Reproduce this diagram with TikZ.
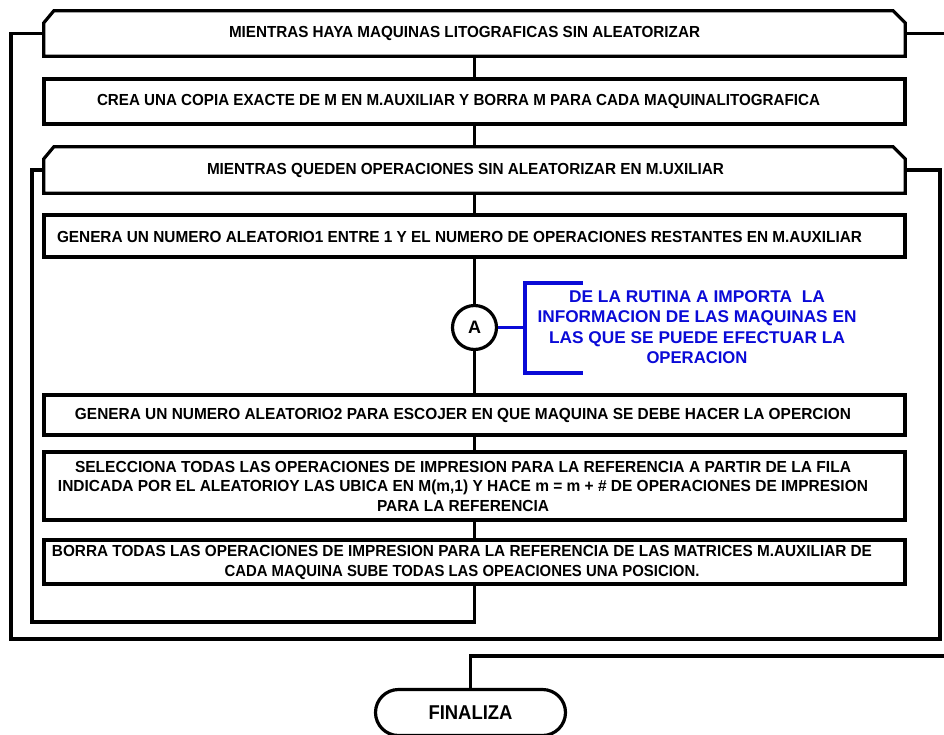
\documentclass[tikz,border=0pt]{standalone}
\usepackage{fontspec}
\setmainfont{Liberation Sans}
\usepackage{graphicx}
\usetikzlibrary{shapes.misc}

% set a line of text squeezed or stretched to a given width (in pt)
\newcommand\fitw[2]{\sbox0{#2}\pgfmathsetmacro\fitratio{#1/\the\wd0}\scalebox{\fitratio}[1]{\usebox0}}

\definecolor{notecolor}{RGB}{10,10,215}

\tikzset{
  stroke/.style={line width=3.2pt, line join=miter, line cap=rect},
  procbox/.style={draw, stroke, fill=white, minimum width=861pt, inner sep=0pt},
  loopnode/.style={minimum width=861pt, inner sep=0pt},
  lbl/.style={font=\bfseries\fontsize{16}{19.5}\selectfont, align=center, inner sep=0pt},
  notelbl/.style={font=\bfseries\fontsize{17}{20.5}\selectfont, align=center, inner sep=0pt, text=notecolor},
  conn/.style={stroke},
  noteline/.style={draw=notecolor, line width=3.4pt},
  connector/.style={circle, draw, stroke, fill=white, minimum size=44pt, inner sep=0pt, font=\bfseries\fontsize{18}{18}\selectfont},
  terminal/.style={rounded rectangle, draw, stroke, fill=white, minimum width=190pt, minimum height=46pt, inner sep=0pt, font=\bfseries\fontsize{20}{20}\selectfont}
}

% loop header with both upper corners cut off
\newcommand\loopframe[1]{%
  \draw[stroke, fill=white] (#1.south west) -- ([yshift=-12pt]#1.north west)
    -- ([xshift=10pt]#1.north west) -- ([xshift=-12pt]#1.north east)
    -- ([yshift=-12pt]#1.north east) -- (#1.south east) -- cycle;}

\begin{document}
\begin{tikzpicture}[x=1pt,y=-1pt]
\useasboundingbox (0,0) rectangle (944,734);

% outer loop header
\node[loopnode, minimum height=45pt] (loop1) at (474.5,33.5) {};
\loopframe{loop1}
\node[lbl] (loop1-t) at (464.5,33.5) {\fitw{471}{MIENTRAS HAYA MAQUINAS LITOGRAFICAS SIN ALEATORIZAR}};

% copy step
\node[procbox, minimum height=45pt] (crea) at (474.5,101.5) {};
\node[lbl] (crea-t) at (458.5,101.5) {\fitw{723}{CREA UNA COPIA EXACTE DE M EN M.AUXILIAR Y BORRA M PARA CADA MAQUINALITOGRAFICA}};

% inner loop header
\node[loopnode, minimum height=46pt] (loop2) at (474.5,170) {};
\loopframe{loop2}
\node[lbl] (loop2-t) at (465.5,170) {\fitw{517}{MIENTRAS QUEDEN OPERACIONES SIN ALEATORIZAR EN M.UXILIAR}};

% first random number
\node[procbox, minimum height=42pt] (gen1) at (474.5,236) {};
\node[lbl] (gen1-t) at (459.5,237) {\fitw{805}{GENERA UN NUMERO ALEATORIO1 ENTRE 1 Y EL NUMERO DE OPERACIONES RESTANTES EN M.AUXILIAR}};

% off-page connector and its note
\node[connector] (conA) at (474.5,327.5) {A};
\coordinate (brk) at (525,327.5);
\coordinate (brkT) at (525,283);
\coordinate (brkB) at (525,373);
\coordinate (brkTe) at (583,283);
\coordinate (brkBe) at (583,373);
\node[notelbl] (nota) at (697,327) {\fitw{256}{DE LA RUTINA A IMPORTA\ \ LA}\\
  \fitw{319}{INFORMACION DE LAS MAQUINAS EN}\\
  \fitw{296}{LAS QUE SE PUEDE EFECTUAR LA}\\
  \fitw{101}{OPERACION}};

% second random number
\node[procbox, minimum height=40pt] (gen2) at (474.5,415) {};
\node[lbl] (gen2-t) at (463,415) {\fitw{776}{GENERA UN NUMERO ALEATORIO2 PARA ESCOJER EN QUE MAQUINA SE DEBE HACER LA OPERCION}};

% selection step
\node[procbox, minimum height=68pt] (sel) at (474.5,486) {};
\node[lbl] (sel-t) at (463,486) {\fitw{776}{SELECCIONA TODAS LAS OPERACIONES DE IMPRESION PARA LA REFERENCIA A PARTIR DE LA FILA}\\
  \fitw{810}{INDICADA POR EL ALEATORIOY LAS UBICA EN M(m,1) Y HACE m = m + \# DE OPERACIONES DE IMPRESION}\\
  \fitw{172}{PARA LA REFERENCIA}};

% deletion step
\node[procbox, minimum height=44pt] (borra) at (474.5,562) {};
\node[lbl] (borra-t) at (462,562.5) {\fitw{820}{BORRA TODAS LAS OPERACIONES DE IMPRESION PARA LA REFERENCIA DE LAS MATRICES M.AUXILIAR DE}\\
  \fitw{475}{CADA MAQUINA SUBE TODAS LAS OPEACIONES UNA POSICION.}};

% end terminal
\node[terminal] (fin) at (470.5,712.5) {\fitw{84}{FINALIZA}};

% main flow
\draw[conn] (loop1.south) -- (crea.north);
\draw[conn] (crea.south) -- (loop2.north);
\draw[conn] (loop2.south) -- (gen1.north);
\draw[conn] (gen1.south) -- (conA.north);
\draw[conn] (conA.south) -- (gen2.north);
\draw[conn] (gen2.south) -- (sel.north);
\draw[conn] (sel.south) -- (borra.north);

% inner loop return
\coordinate (in1) at (474.5,622);
\coordinate (in2) at (32,622);
\coordinate (in3) at (32,170);
\draw[conn] (borra.south) -- (in1) -- (in2) -- (in3) -- (loop2.west);

% inner loop exit and outer loop return
\coordinate (out1) at (940,170);
\coordinate (out2) at (940,639);
\coordinate (out3) at (11,639);
\coordinate (out4) at (11,33.5);
\draw[conn] (loop2.east) -- (out1) -- (out2) -- (out3) -- (out4) -- (loop1.west);

% outer loop exit
\coordinate (exit1) at (950,33.5);
\draw[conn] (loop1.east) -- (exit1);

% line into the end terminal
\coordinate (end1) at (950,656);
\coordinate (end2) at (470.5,656);
\draw[conn] (end1) -- (end2) -- (fin.north);

% note bracket
\draw[noteline] (conA.east) -- (brk);
\draw[noteline] (brkTe) -- (brkT) -- (brkB) -- (brkBe);
\end{tikzpicture}
\end{document}
